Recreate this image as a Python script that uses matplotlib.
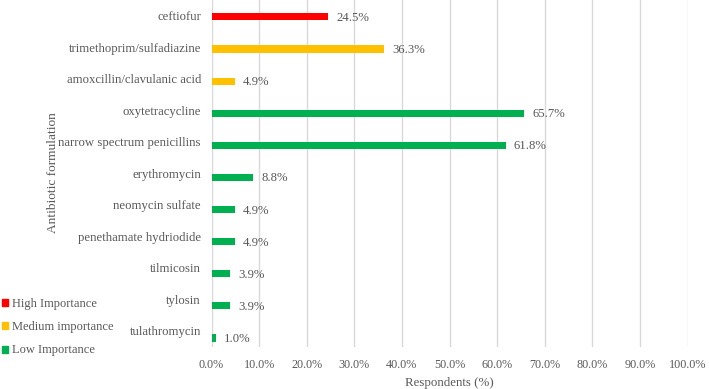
import numpy as np
import matplotlib
matplotlib.use("Agg")
from matplotlib import pyplot as plt
from matplotlib.patches import Patch
import matplotlib.transforms as mtransforms

plt.rcParams['font.family'] = ['Liberation Serif', 'DejaVu Serif']

## data
drugs = ['ceftiofur', 'trimethoprim/sulfadiazine', 'amoxcillin/clavulanic acid',
         'oxytetracycline', 'narrow spectrum penicillins', 'erythromycin',
         'neomycin sulfate', 'penethamate hydriodide', 'tilmicosin', 'tylosin',
         'tulathromycin']
respondents = [24.5, 36.3, 4.9, 65.7, 61.8, 8.8, 4.9, 4.9, 3.9, 3.9, 1.0]
importance = ['High', 'Medium', 'Medium', 'Low', 'Low', 'Low', 'Low', 'Low',
              'Low', 'Low', 'Low']
legend_labels = ['High Importance', 'Medium importance', 'Low Importance']
xticks = np.arange(0, 101, 10)

colors = {'High': '#FF0000', 'Medium': '#FFC000', 'Low': '#00B050'}
txt = '#595959'

fig = plt.figure(figsize=(7.09, 3.89), dpi=100)
ax = fig.add_axes([211.5/709, 1-347/389, 476/709, 347/389])

ypos = np.arange(len(drugs))
ax.barh(ypos, respondents, height=0.22, color=[colors[k] for k in importance], zorder=3)
ax.set_ylim(10.28, -0.526)
ax.set_xlim(0, 100)

ax.set_xticks(xticks)
ax.set_xticklabels(['%.1f%%' % v for v in xticks], color=txt, fontsize=8.7)
ax.tick_params(axis='x', length=0, pad=9)
ax.set_yticks([])
ax.grid(axis='x', color='#d9d9d9', linewidth=1, zorder=0)
for s in ax.spines.values():
    s.set_visible(False)

# category labels: evenly spaced, drifting slightly above their bars (as in the Excel original)
lab_base = mtransforms.blended_transform_factory(ax.transAxes, ax.transData)
for y, name in zip(ypos, drugs):
    tr = lab_base + mtransforms.ScaledTranslation(-10.5/100, (0.6*y - 0.1)/100, fig.dpi_scale_trans)
    ax.text(0, y, name, transform=tr, ha='right', va='center', color=txt, fontsize=9.2)

# value labels right of the bars
val_tr = ax.transData + mtransforms.ScaledTranslation(8/100, -1/100, fig.dpi_scale_trans)
for y, v in zip(ypos, respondents):
    ax.text(v, y, '%.1f%%' % v, transform=val_tr, ha='left', va='center', color=txt, fontsize=9.2)

ax.set_xlabel('Respondents (%)', color=txt, fontsize=9.3, labelpad=4)
fig.text(53/709, 1-173/389, 'Antibiotic formulation', rotation=90, ha='center', va='center',
         color=txt, fontsize=9.6)

handles = [Patch(color=colors[k]) for k in ['High', 'Medium', 'Low']]
fig.legend(handles, legend_labels, loc='upper left', bbox_to_anchor=(2/709, 1-298/389),
           frameon=False, fontsize=9, labelcolor=txt, handlelength=0.5, handleheight=0.5,
           handletextpad=0.3, labelspacing=0.9, borderpad=0, borderaxespad=0)

plt.savefig('out.png', dpi=100)
